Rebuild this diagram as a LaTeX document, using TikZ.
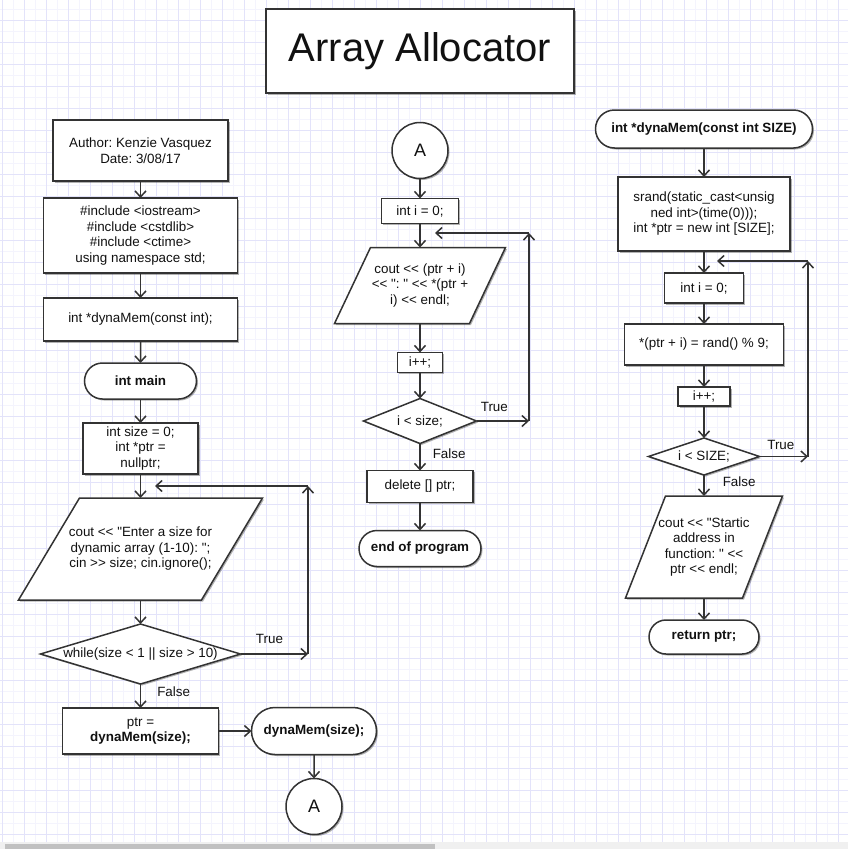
\documentclass[tikz,border=0pt]{standalone}
\usepackage{fontspec}
\setmainfont{Liberation Sans}[Ligatures=TeXOff]
\usetikzlibrary{arrows.meta,positioning,shapes.geometric,shapes.misc,shadows,backgrounds}
\definecolor{Ink}{HTML}{333333}
\definecolor{Type}{HTML}{111111}
\definecolor{GridMajor}{HTML}{E3E3FA}
\definecolor{GridMinor}{HTML}{F4F4FD}
\definecolor{Track}{HTML}{F0F0F0}
\definecolor{Thumb}{HTML}{C1C1C1}
\newcommand{\flowfont}{\fontsize{13.4}{15.5}\selectfont\frenchspacing}
% slanted frame behind an io node: #1 node name, #2 slant
\newcommand{\ioframe}[2]{%
  \begin{scope}[on background layer]
    \draw[ioline] ([xshift=-#2/2]#1.south west) -- ([xshift=-#2/2]#1.south east) -- ([xshift=#2/2]#1.north east) -- ([xshift=#2/2]#1.north west) -- cycle;
  \end{scope}}
\tikzset{
  base/.style={draw=Ink, line width=1.5pt, fill=white, align=center, text=Type, font=\flowfont, outer sep=0pt, drop shadow={shadow xshift=1.5pt, shadow yshift=-1.5pt, opacity=0.3, fill=black}},
  procbox/.style={base, rectangle, inner sep=1pt},
  termpill/.style={base, rounded rectangle, inner sep=1pt, font=\flowfont\bfseries},
  iobox/.style={rectangle, align=center, text=Type, font=\flowfont, inner sep=0pt, outer sep=0pt},
  ioline/.style={draw=Ink, line width=1.5pt, fill=white, drop shadow={shadow xshift=1.5pt, shadow yshift=-1.5pt, opacity=0.3, fill=black}},
  decide/.style={base, diamond, inner sep=0pt},
  joint/.style={base, circle, minimum size=56pt, inner sep=0pt, font=\fontsize{18}{20}\selectfont},
  arrow/.style={-{Straight Barb[length=6pt, width=11pt]}, line width=1.5pt, draw=Ink},
  branch/.style={font=\flowfont, text=Type, inner sep=0pt},
  gridline/.style={draw=GridMajor, line width=1pt},
  gridfaint/.style={draw=GridMinor, line width=1pt}
}
\begin{document}
\begin{tikzpicture}[x=1pt, y=-1pt]
\useasboundingbox (0,0) rectangle (848,849);
% grid paper
\begin{scope}[on background layer]
\foreach \k in {0,...,38} {
  \draw[gridfaint] ({13.7+22*\k},0) -- ({13.7+22*\k},842);
}
\foreach \k in {0,...,37} {
  \draw[gridfaint] (0,{9.7+22*\k}) -- (848,{9.7+22*\k});
}
\foreach \k in {0,...,38} {
  \draw[gridline] ({2.7+22*\k},0) -- ({2.7+22*\k},842);
}
\foreach \k in {0,...,37} {
  \draw[gridline] (0,{20.7+22*\k}) -- (848,{20.7+22*\k});
}
\fill[Track] (0,842) rectangle (848,849);
\fill[Thumb] (5,844) rectangle (435,849);
\end{scope}

\node[procbox, minimum width=308pt, minimum height=84pt, font=\fontsize{40}{44}\selectfont] (title) at (420,51) {Array Allocator};

% main
\node[procbox, minimum width=175pt, minimum height=61pt] (author) at (140.5,150.5) {Author: Kenzie Vasquez\\Date: 3/08/17};
\node[procbox, below=17pt of author, minimum width=194pt, minimum height=75pt] (incl) {\#include <iostream>\\\#include <cstdlib>\\\#include <ctime>\\using namespace std;};
\node[procbox, below=25pt of incl, minimum width=194pt, minimum height=43pt] (proto) {int *dynaMem(const int);};
\node[termpill, below=22pt of proto, minimum width=114pt, minimum height=36pt] (main) {int main};
\node[procbox, below=24pt of main, minimum width=115pt, minimum height=51pt] (vars) {int size = 0;\\int *ptr =\\nullptr;};
\node[iobox, below=24pt of vars, minimum width=183pt, minimum height=102pt] (ask) {cout << "Enter a size for\\dynamic array (1-10): ";\\cin >> size; cin.ignore();};
\ioframe{ask}{61pt}
\node[decide, below=24pt of ask, aspect=3.33, inner xsep=-6pt, minimum width=200pt, minimum height=60pt] (check) {while(size < 1 || size > 10)};
\node[procbox, below=24pt of check, minimum width=156pt, minimum height=46pt] (assign) {ptr =\\\textbf{dynaMem(size);}};
\node[termpill, right=33pt of assign, minimum width=127pt, minimum height=47pt] (call) {dynaMem(size);};
\node[joint, below=24pt of call] (jumpout) {A};
\coordinate (railA) at (308,486);
\coordinate (loopA) at (check -| railA);
\coordinate (backA) at (155,486);
\draw[arrow] (author) -- (incl);
\draw[arrow] (incl) -- (proto);
\draw[arrow] (proto) -- (main);
\draw[arrow] (main) -- (vars);
\draw[arrow] (vars) -- (ask);
\draw[arrow] (ask) -- (check);
\draw[arrow] (check) -- node[branch, anchor=west, xshift=16pt, yshift=4pt] {False} (assign);
\draw[arrow] (check) -- node[branch, above=10pt, pos=0.43] {True} (loopA);
\draw[arrow] (loopA) -- (railA);
\draw[arrow] (railA) -- (backA);
\draw[arrow] (assign) -- (call);
\draw[arrow] (call) -- (jumpout);

% print and free
\node[joint] (jumpin) at (420,150.5) {A};
\node[procbox, below=20pt of jumpin, minimum width=77pt, minimum height=25pt] (zero) {int i = 0;};
\node[iobox, below=24pt of zero, minimum width=135pt, minimum height=76pt] (show) {cout << (ptr + i)\\<< ": " << *(ptr +\\i) << endl;};
\ioframe{show}{36pt}
\node[procbox, below=29pt of show, minimum width=45pt, minimum height=20pt] (next) {i++;};
\node[decide, below=26pt of next, aspect=2.5, minimum width=113pt, minimum height=45pt] (more) {i < size;};
\node[procbox, below=27pt of more, minimum width=106pt, minimum height=32pt] (free) {delete [] ptr;};
\node[termpill, below=28pt of free, minimum width=124pt, minimum height=36pt] (stop) {end of program};
\coordinate (railM) at (529,233);
\coordinate (loopM) at (more -| railM);
\coordinate (backM) at (435,233);
\draw[arrow] (jumpin) -- (zero);
\draw[arrow] (zero) -- (show);
\draw[arrow] (show) -- (next);
\draw[arrow] (next) -- (more);
\draw[arrow] (more) -- node[branch, anchor=west, xshift=12pt, yshift=3.5pt] {False} (free);
\draw[arrow] (more) -- node[branch, above=9pt, pos=0.34] {True} (loopM);
\draw[arrow] (loopM) -- (railM);
\draw[arrow] (railM) -- (backM);
\draw[arrow] (free) -- (stop);

% dynaMem
\node[termpill, minimum width=219pt, minimum height=38pt] (func) at (704,129) {int *dynaMem(const int SIZE)};
\node[procbox, below=29pt of func, minimum width=172pt, minimum height=74pt] (seed) {srand(static\_cast<unsig\\ned int>(time(0)));\\int *ptr = new int [SIZE];};
\node[procbox, below=22pt of seed, minimum width=79pt, minimum height=30pt] (zeroB) {int i = 0;};
\node[procbox, below=21pt of zeroB, minimum width=159pt, minimum height=41pt] (rnd) {*(ptr + i) = rand() \% 9;};
\node[procbox, below=22pt of rnd, minimum width=52pt, minimum height=19pt] (nextB) {i++;};
\node[decide, below=32pt of nextB, aspect=3, minimum width=111pt, minimum height=37pt] (moreB) {i < SIZE;};
\node[iobox, below=21pt of moreB, minimum width=117pt, minimum height=102pt] (report) {cout << "Startic\\address in\\function: " <<\\ptr << endl;};
\ioframe{report}{40pt}
\node[termpill, below=22pt of report, minimum width=112pt, minimum height=34pt] (ret) {return ptr;};
\coordinate (railB) at (808,261);
\coordinate (loopB) at (moreB -| railB);
\coordinate (backB) at (717,261);
\draw[arrow] (func) -- (seed);
\draw[arrow] (seed) -- (zeroB);
\draw[arrow] (zeroB) -- (rnd);
\draw[arrow] (rnd) -- (nextB);
\draw[arrow] (nextB) -- (moreB);
\draw[arrow] (moreB) -- node[branch, anchor=west, xshift=18pt, yshift=3.5pt] {False} (report);
\draw[arrow] (moreB) -- node[branch, above=6pt, pos=0.44] {True} (loopB);
\draw[arrow] (loopB) -- (railB);
\draw[arrow] (railB) -- (backB);
\draw[arrow] (report) -- (ret);
\end{tikzpicture}
\end{document}
